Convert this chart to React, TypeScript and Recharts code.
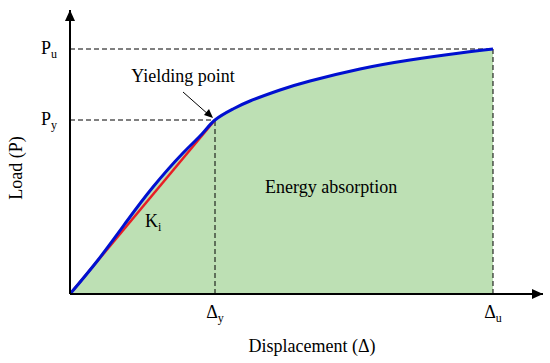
import React from "react";
import {
  ComposedChart,
  Area,
  Line,
  XAxis,
  YAxis,
  ReferenceLine,
  ReferenceDot,
} from "recharts";

// Load-displacement curve (arbitrary units)
const displacement = [0, 2.8, 5.7, 8.3, 11.3, 13.2, 14.5, 16.3, 18, 21, 24, 29, 34, 39, 42.3];
const load = [0, 3.4, 7.3, 10.7, 14.1, 16.0, 17.4, 18.5, 19.3, 20.4, 21.3, 22.5, 23.4, 24.1, 24.5];
// initial stiffness line Ki: origin to yielding point
const stiffness = [0, null, null, null, null, null, 17.4, null, null, null, null, null, null, null, null];

const DELTA_Y = 14.5;
const DELTA_U = 42.3;
const P_Y = 17.4;
const P_U = 24.5;
const X_MAX = 47.3;
const Y_MAX = 28.4;

const xTicks = [DELTA_Y, DELTA_U];
const yTicks = [P_Y, P_U];
const xTickNames: Record<string, string> = { [DELTA_Y]: "y", [DELTA_U]: "u" };
const yTickNames: Record<string, string> = { [P_Y]: "y", [P_U]: "u" };

const chartData = displacement.map((d, i) => ({
  d,
  load: load[i],
  ki: stiffness[i],
}));

const FONT = "Liberation Serif";
const textStyle = { fontFamily: FONT };
const GREEN = "#bde0b4";
const BLUE = "#0010d0";
const RED = "#e81e25";
const DASH = "5 3";

// eslint-disable-next-line @typescript-eslint/no-explicit-any
const XTick = (props: any) => {
  const { x, y, payload } = props;
  return (
    <text x={x} y={y} dy={24} textAnchor="middle" style={textStyle} fontSize={18} fill="#000">
      Δ
      <tspan dy={4} fontSize={12}>
        {xTickNames[payload.value]}
      </tspan>
    </text>
  );
};

// eslint-disable-next-line @typescript-eslint/no-explicit-any
const YTick = (props: any) => {
  const { x, y, payload } = props;
  return (
    <text x={x - 13} y={y} dy={5} textAnchor="end" style={textStyle} fontSize={18} fill="#000">
      P
      <tspan dy={4} fontSize={12}>
        {yTickNames[payload.value]}
      </tspan>
    </text>
  );
};

// eslint-disable-next-line @typescript-eslint/no-explicit-any
const ArrowRight = ({ cx, cy }: any) => (
  <polygon points={`${cx},${cy} ${cx - 11},${cy - 5} ${cx - 11},${cy + 5}`} fill="#000" />
);

// eslint-disable-next-line @typescript-eslint/no-explicit-any
const ArrowUp = ({ cx, cy }: any) => (
  <polygon points={`${cx},${cy} ${cx - 5},${cy + 11} ${cx + 5},${cy + 11}`} fill="#000" />
);

// eslint-disable-next-line @typescript-eslint/no-explicit-any
const YieldNote = ({ cx, cy }: any) => (
  <g>
    <line x1={cx - 32} y1={cy - 28} x2={cx - 6} y2={cy - 5} stroke="#000" strokeWidth={1} />
    <polygon
      points={`${cx - 2},${cy - 2} ${cx - 11},${cy - 5} ${cx - 6},${cy - 11}`}
      fill="#000"
    />
    <text x={cx - 32} y={cy - 38} textAnchor="middle" style={textStyle} fontSize={18} fill="#000">
      Yielding point
    </text>
  </g>
);

export default function App() {
  return (
    <div style={{ position: "absolute", left: 0, top: 0, width: 550, height: 363, background: "#fff", fontFamily: FONT }}>
      <ComposedChart
        width={550}
        height={363}
        data={chartData}
        margin={{ top: 10, right: 7, bottom: 0, left: 0 }}
      >
        <XAxis
          dataKey="d"
          type="number"
          domain={[0, X_MAX]}
          ticks={xTicks}
          tick={<XTick />}
          tickLine={false}
          tickSize={0}
          tickMargin={0}
          height={69}
          axisLine={{ stroke: "#000", strokeWidth: 2 }}
          interval={0}
        />
        <YAxis
          type="number"
          domain={[0, Y_MAX]}
          ticks={yTicks}
          tick={<YTick />}
          tickLine={false}
          tickSize={0}
          tickMargin={0}
          width={70}
          axisLine={{ stroke: "#000", strokeWidth: 2 }}
          interval={0}
        />
        <Area
          dataKey="load"
          type="natural"
          fill={GREEN}
          fillOpacity={1}
          stroke="none"
          isAnimationActive={false}
        />
        <ReferenceLine
          segment={[{ x: 0, y: P_U }, { x: DELTA_U, y: P_U }]}
          stroke="#000"
          strokeDasharray={DASH}
        />
        <ReferenceLine
          segment={[{ x: 0, y: P_Y }, { x: DELTA_Y, y: P_Y }]}
          stroke="#000"
          strokeDasharray={DASH}
        />
        <ReferenceLine
          segment={[{ x: DELTA_Y, y: 0 }, { x: DELTA_Y, y: P_Y }]}
          stroke="#000"
          strokeDasharray={DASH}
        />
        <ReferenceLine
          segment={[{ x: DELTA_U, y: 0 }, { x: DELTA_U, y: P_U }]}
          stroke="#000"
          strokeDasharray={DASH}
        />
        <Line
          dataKey="ki"
          type="linear"
          stroke={RED}
          strokeWidth={2.5}
          dot={false}
          connectNulls
          isAnimationActive={false}
        />
        <Line
          dataKey="load"
          type="natural"
          stroke={BLUE}
          strokeWidth={3}
          dot={false}
          isAnimationActive={false}
        />
        <ReferenceDot x={X_MAX} y={0} ifOverflow="visible" shape={<ArrowRight />} />
        <ReferenceDot x={0} y={Y_MAX} ifOverflow="visible" shape={<ArrowUp />} />
        <ReferenceDot x={DELTA_Y} y={P_Y} ifOverflow="visible" shape={<YieldNote />} />
      </ComposedChart>
      <svg
        width={550}
        height={363}
        style={{ position: "absolute", left: 0, top: 0, pointerEvents: "none" }}
      >
        <g style={textStyle} fontSize={18} fill="#000">
          <text x={265} y={193}>Energy absorption</text>
          <text x={145} y={227}>
            K
            <tspan dy={4} fontSize={12}>
              i
            </tspan>
          </text>
          <text x={312} y={352} textAnchor="middle">
            Displacement (Δ)
          </text>
          <text x={22} y={168} textAnchor="middle" transform="rotate(-90 22 168)">
            Load (P)
          </text>
        </g>
      </svg>
    </div>
  );
}
